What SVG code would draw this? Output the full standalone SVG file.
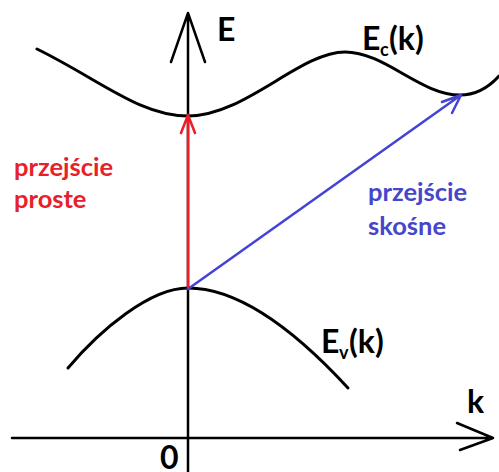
<svg xmlns="http://www.w3.org/2000/svg" width="499" height="472" viewBox="0 0 499 472">
<style>
.ax{fill:none;stroke:#000;stroke-width:2.5;stroke-linecap:round;stroke-linejoin:round}
.band{fill:none;stroke:#000;stroke-width:3;stroke-linecap:round}
.lbl{font-family:Lato,"Open Sans",sans-serif;font-weight:bold;fill:#000}
.big{font-size:32px}
.sub{font-size:18px}
.red{font-family:Lato,"Open Sans",sans-serif;font-weight:bold;font-size:25.5px;fill:#e8202a}
.blue{font-family:Lato,"Open Sans",sans-serif;font-weight:bold;font-size:25.5px;fill:#4646cc}
</style>
<rect width="499" height="472" fill="#fff"/>
<g id="axes">
<path class="ax" d="M188,472 L188,13 M171,62 L188,13 L205,62"/>
<path class="ax" d="M12,438 L493,438 M457,423 L493,438 L460,450"/>
</g>
<g id="conduction-band">
<path class="band" d="M37,49 C100,80 140,116 188,116 C245,116 300,52 345,52 C385,52 420,95 460,95 C478,95 490,86 499,76"/>
<text class="lbl big" x="362" y="50">E<tspan class="sub" x="380" y="56">c</tspan><tspan x="389" y="50">(k)</tspan></text>
</g>
<g id="valence-band">
<path class="band" d="M68,368 C100,330 150,288 188,288 C235,288 290,325 348,388"/>
<text class="lbl big" x="321" y="353">E<tspan class="sub" x="339" y="359">v</tspan><tspan x="349" y="353">(k)</tspan></text>
</g>
<g id="labels">
<text class="lbl big" x="217" y="41">E</text>
<text class="lbl big" x="467" y="413">k</text>
<text class="lbl big" x="160" y="469">0</text>
</g>
<g id="connectors">
<path d="M188,289 L188,116 M181,133 L188,115 L195,133" fill="none" stroke="#ee1c25" stroke-width="2.5" stroke-linecap="round" stroke-linejoin="round"/>
<path d="M188,289 L461,95 M442,102 L461,95 L452,113" fill="none" stroke="#4343d6" stroke-width="2.5" stroke-linecap="round" stroke-linejoin="round"/>
</g>
<g id="text-direct">
<text class="red" x="14" y="176">przejście</text>
<text class="red" x="14" y="208">proste</text>
</g>
<g id="text-indirect">
<text class="blue" x="368" y="201">przejście</text>
<text class="blue" x="368" y="235">skośne</text>
</g>
</svg>
